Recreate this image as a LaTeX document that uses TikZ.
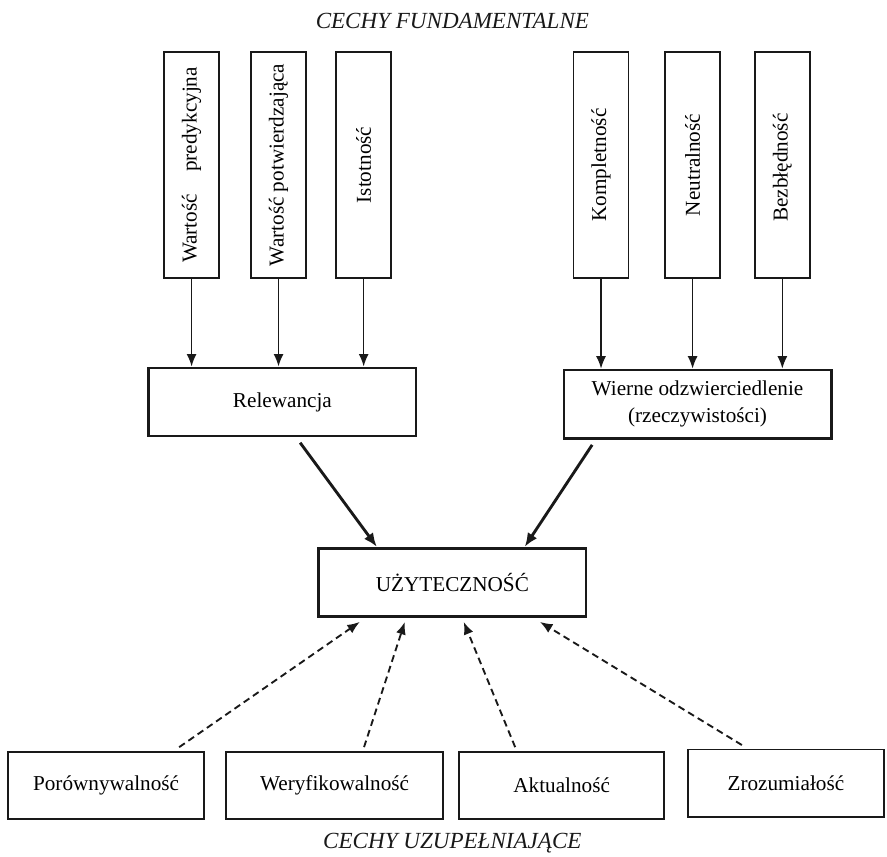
\documentclass[tikz,border=0pt]{standalone}
\usepackage{fontspec}
\setmainfont{Liberation Serif}
\usepackage{xcolor}
\usetikzlibrary{arrows.meta}
\definecolor{ramka}{RGB}{25,25,25}

\tikzset{
  pionbox/.style={draw=ramka, line width=1.3pt, minimum width=1.55cm, minimum height=6.37cm, inner sep=0pt},
  srodbox/.style={draw=ramka, line width=2.2pt, minimum width=7.53cm, minimum height=1.92cm, align=center},
  dolbox/.style={draw=ramka, line width=1.5pt, minimum height=1.89cm},
  strz/.style={draw=ramka, -{Latex[length=10pt,width=8pt]}, line width=1.3pt},
  grubastrz/.style={draw=ramka, -{Latex[length=11pt,width=9pt]}, line width=2.3pt},
  przerwstrz/.style={draw=ramka, -{Latex[length=10pt,width=8pt]}, line width=1.5pt, dash pattern=on 5.5pt off 3.5pt},
  podpis/.style={font=\fontsize{18.5}{21}\selectfont\itshape, text=ramka}
}

\begin{document}
\begin{tikzpicture}[font=\fontsize{17}{21.5}\selectfont]

% Background
\useasboundingbox (0,0) rectangle (25,24.13);

% Title
\node[podpis] (gora) at (12.75,23.53) {CECHY FUNDAMENTALNE};

% Top boxes
\foreach \nazwa/\x/\tekst in {
wp/5.40/{Wartość\hspace{0.8em} predykcyjna},wpo/7.85/{Wartość potwierdzająca},ist/10.25/{Istotność},
kom/16.94/{Kompletność},neu/19.52/{Neutralność},bez/22.05/{Bezbłędność}
} {
    \node[pionbox] (\nazwa) at (\x,19.48) {\rotatebox{90}{\tekst}};
}

% Middle boxes
\node[srodbox] (rel) at (7.96,12.80) {Relewancja};
\node[srodbox] (wo) at (19.66,12.74) {Wierne odzwierciedlenie\\(rzeczywistości)};
\node[srodbox] (uzy) at (12.75,7.72) {UŻYTECZNOŚĆ};

% Arrows into the middle boxes
\foreach \n in {wp,wpo,ist} {
    \draw[strz] (\n.south) -- (\n.south |- rel.north);
}
\foreach \n in {kom,neu,bez} {
    \draw[strz] (\n.south) -- (\n.south |- wo.north);
}

\draw[grubastrz] ([xshift=0.5cm,yshift=-0.15cm]rel.south) -- ([xshift=-2.13cm]uzy.north);
\draw[grubastrz] ([xshift=-2.97cm,yshift=-0.15cm]wo.south) -- ([xshift=2.04cm]uzy.north);

% Bottom boxes
\node[dolbox, minimum width=5.52cm] (por) at (2.99,2.00) {Porównywalność};
\node[dolbox, minimum width=6.12cm] (wer) at (9.43,2.00) {Weryfikowalność};
\node[dolbox, minimum width=5.78cm] (akt) at (15.83,2.00) {Aktualność};
\node[dolbox, minimum width=5.52cm] (zro) at (22.15,2.06) {Zrozumiałość};

% Dashed arrows
\draw[przerwstrz] ([xshift=2.06cm,yshift=0.1cm]por.north) -- ([xshift=-2.61cm,yshift=-0.12cm]uzy.south);
\draw[przerwstrz] ([xshift=0.83cm,yshift=0.1cm]wer.north) -- ([xshift=-1.34cm,yshift=-0.12cm]uzy.south);
\draw[przerwstrz] ([xshift=-1.31cm,yshift=0.1cm]akt.north) -- ([xshift=0.32cm,yshift=-0.12cm]uzy.south);
\draw[przerwstrz] ([xshift=-1.24cm,yshift=0.1cm]zro.north) -- ([xshift=2.47cm,yshift=-0.12cm]uzy.south);

% Bottom label
\node[podpis] (dol) at (12.75,0.37) {CECHY UZUPEŁNIAJĄCE};

\end{tikzpicture}
\end{document}
